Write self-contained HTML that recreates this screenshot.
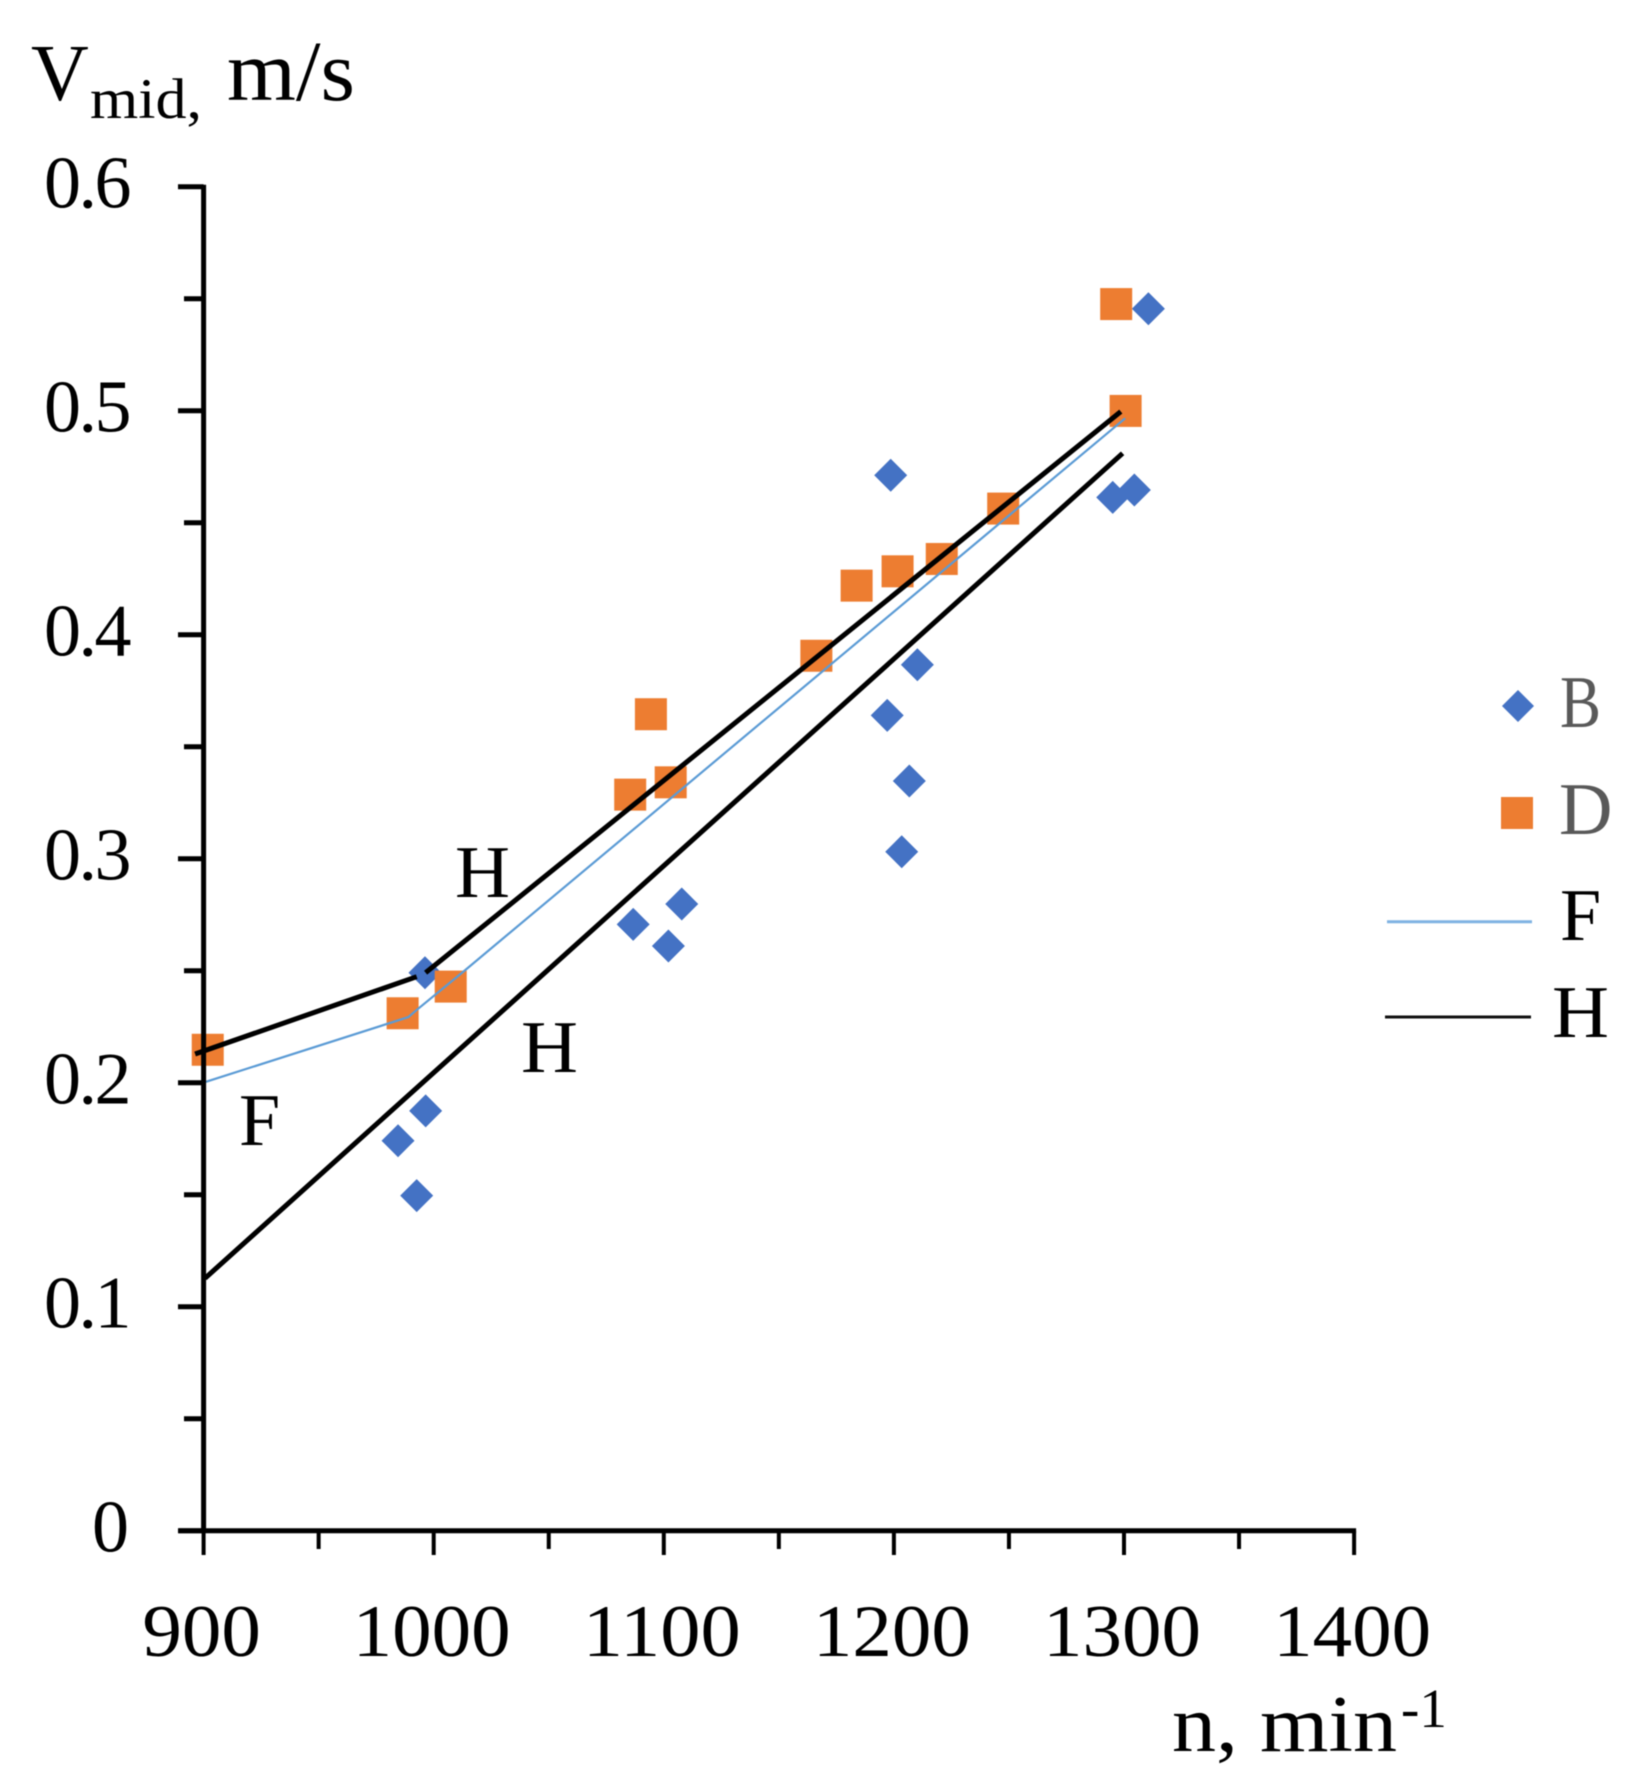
<!DOCTYPE html>
<html lang="en">
<head>
<meta charset="utf-8">
<title>Vmid versus n chart</title>
<style>
  html, body { margin: 0; padding: 0; background: #ffffff; }
  body { width: 1640px; height: 1786px; overflow: hidden; }
  svg { display: block; filter: blur(0.5px); }
  text { font-family: "Liberation Serif", "DejaVu Serif", serif; fill: #000; }
</style>
</head>
<body>
<svg id="chart" width="1640" height="1786" viewBox="0 0 1640 1786" xmlns="http://www.w3.org/2000/svg">
  <g id="marks-layer"></g>
  <g id="lines-layer"></g>
  <g id="axes-layer"></g>

  <g>
    <text x="31" y="100" font-size="80">V</text>
    <text x="90" y="118" font-size="57" textLength="112" lengthAdjust="spacingAndGlyphs">mid,</text>
    <text x="227" y="100" font-size="86" textLength="128" lengthAdjust="spacingAndGlyphs">m/s</text>
  </g>
  <g>
    <text x="1172" y="1751" font-size="80" textLength="225" lengthAdjust="spacingAndGlyphs">n, min</text>
    <text x="1401" y="1727" font-size="55">-1</text>
  </g>

  <g>
    <text x="455" y="897" font-size="74" textLength="55" lengthAdjust="spacingAndGlyphs">H</text>
    <text x="521" y="1072" font-size="74" textLength="57" lengthAdjust="spacingAndGlyphs">H</text>
    <text x="239" y="1145" font-size="74">F</text>
  </g>

  <g>
    <g>
      <polygon points="1518,690 1534,706 1518,722 1502,706" fill="#4472C4"></polygon>
      <text x="1560" y="727" font-size="74" textLength="41" lengthAdjust="spacingAndGlyphs" style="fill:#595959">B</text>
    </g>
    <g>
      <rect x="1501" y="797" width="32" height="32" fill="#ED7D31"></rect>
      <text x="1559" y="834" font-size="74" style="fill:#595959">D</text>
    </g>
    <g>
      <line x1="1387" y1="921.7" x2="1532" y2="921.7" stroke="#7FB2E2" stroke-width="3"></line>
      <text x="1560" y="940" font-size="74">F</text>
    </g>
    <g>
      <line x1="1385" y1="1017" x2="1531" y2="1017" stroke="#111111" stroke-width="3"></line>
      <text x="1552" y="1037" font-size="74" textLength="57" lengthAdjust="spacingAndGlyphs">H</text>
    </g>
  </g>
</svg>

<script>
// Chart data
const yTickLabels = ["0", "0.1", "0.2", "0.3", "0.4", "0.5", "0.6"];
const yTickValues = [0, 0.1, 0.2, 0.3, 0.4, 0.5, 0.6];
const yMinorTickValues = [0.05, 0.15, 0.25, 0.35, 0.45, 0.55];
const xTickLabels = ["900", "1000", "1100", "1200", "1300", "1400"];
const xTickValues = [900, 1000, 1100, 1200, 1300, 1400];
const xMinorTickValues = [950, 1050, 1150, 1250, 1350];

const seriesBN = [996.2, 996.5, 984.5, 992.6, 1086.7, 1107.8, 1102, 1197.1, 1210.2, 1206.7, 1203.4, 1198.6, 1310.6, 1295.1, 1304.5];
const seriesBV = [0.2491, 0.1874, 0.1741, 0.1496, 0.2707, 0.2798, 0.261, 0.364, 0.3866, 0.3347, 0.3031, 0.4712, 0.5455, 0.4613, 0.4646];

const seriesDN = [901.8, 986.5, 1007.4, 1085.4, 1094.4, 1103, 1166.3, 1183.8, 1201.6, 1220.8, 1247.5, 1296.6, 1300.7];
const seriesDV = [0.2147, 0.231, 0.2429, 0.3286, 0.3645, 0.3341, 0.3906, 0.4219, 0.4283, 0.4338, 0.4563, 0.5476, 0.4999];

const lineFN = [901, 989, 993, 1012.9, 1300.5];
const lineFV = [0.2004, 0.2293, 0.2328, 0.2496, 0.4966];

const lineHUpperLeftN = [896.3, 992.6];
const lineHUpperLeftV = [0.2128, 0.2473];
const lineHUpperRightN = [996.5, 1298.6];
const lineHUpperRightV = [0.2491, 0.4996];

const lineHLowerN = [900.6, 1299.4];
const lineHLowerV = [0.1127, 0.481];

// Axis functions
const xScale = function (n) { return 203.6 + (n - 900) * 2.301; };
const yScale = function (v) { return 1530.7 - v * 2240; };

const SVGNS = "http://www.w3.org/2000/svg";
function mk(tag, attrs, parent) {
  const node = document.createElementNS(SVGNS, tag);
  Object.keys(attrs).forEach(function (k) { node.setAttribute(k, attrs[k]); });
  parent.appendChild(node);
  return node;
}

const marksLayer = document.getElementById("marks-layer");
const linesLayer = document.getElementById("lines-layer");
const axesLayer = document.getElementById("axes-layer");

// Markers
seriesBN.forEach(function (n, i) {
  const cx = xScale(n), cy = yScale(seriesBV[i]), r = 16.5;
  const pts = [cx, cy - r, cx + r, cy, cx, cy + r, cx - r, cy].join(" ");
  const el = mk("polygon", { points: pts, fill: "#4472C4" }, marksLayer);
  
  
});
seriesDN.forEach(function (n, i) {
  const cx = xScale(n), cy = yScale(seriesDV[i]);
  const el = mk("rect", { x: cx - 16, y: cy - 16, width: 32, height: 32, fill: "#ED7D31" }, marksLayer);
  
  
});

// Lines
function linePoints(ns, vs) {
  return ns.map(function (n, i) { return xScale(n).toFixed(1) + "," + yScale(vs[i]).toFixed(1); }).join(" ");
}
const lineF = mk("polyline", { points: linePoints(lineFN, lineFV), fill: "none", stroke: "#5B9BD5", "stroke-width": 2.2, "stroke-linejoin": "round" }, linesLayer);



const lineHUL = mk("polyline", { points: linePoints(lineHUpperLeftN, lineHUpperLeftV), fill: "none", stroke: "#000", "stroke-width": 5 }, linesLayer);



const lineHUR = mk("polyline", { points: linePoints(lineHUpperRightN, lineHUpperRightV), fill: "none", stroke: "#000", "stroke-width": 5 }, linesLayer);



const lineHL = mk("polyline", { points: linePoints(lineHLowerN, lineHLowerV), fill: "none", stroke: "#000", "stroke-width": 5 }, linesLayer);



// Axes
const yAxisLine = mk("line", { x1: xScale(900), y1: yScale(0.6) - 2, x2: xScale(900), y2: yScale(0) + 2, stroke: "#000", "stroke-width": 5 }, axesLayer);



const xAxisLine = mk("line", { x1: xScale(900) - 25, y1: yScale(0), x2: xScale(1400) + 2, y2: yScale(0), stroke: "#000", "stroke-width": 5 }, axesLayer);



yTickValues.forEach(function (v, i) {
  const tick = mk("line", { x1: 178, y1: yScale(v), x2: xScale(900), y2: yScale(v), stroke: "#000", "stroke-width": 5 }, axesLayer);
  
  
  const label = mk("text", { x: 129, y: yScale(v) + 21, "font-size": 74, "text-anchor": "end", "letter-spacing": yTickLabels[i].length > 1 ? -2.5 : 0 }, axesLayer);
  label.textContent = yTickLabels[i];
  
  
});
yMinorTickValues.forEach(function (v) {
  const tick = mk("line", { x1: 184, y1: yScale(v), x2: xScale(900), y2: yScale(v), stroke: "#000", "stroke-width": 5 }, axesLayer);
  
  
});
xTickValues.forEach(function (n, i) {
  const tick = mk("line", { x1: xScale(n), y1: yScale(0), x2: xScale(n), y2: 1555, stroke: "#000", "stroke-width": 4 }, axesLayer);
  
  
  const label = mk("text", { x: xScale(n) - 2, y: 1656, "font-size": 74, "text-anchor": "middle", textLength: xTickLabels[i].length * 39.5, lengthAdjust: "spacingAndGlyphs" }, axesLayer);
  label.textContent = xTickLabels[i];
  
  
});
xMinorTickValues.forEach(function (n) {
  const tick = mk("line", { x1: xScale(n), y1: yScale(0), x2: xScale(n), y2: 1549, stroke: "#000", "stroke-width": 4 }, axesLayer);
  
  
});
</script>
</body>
</html>
